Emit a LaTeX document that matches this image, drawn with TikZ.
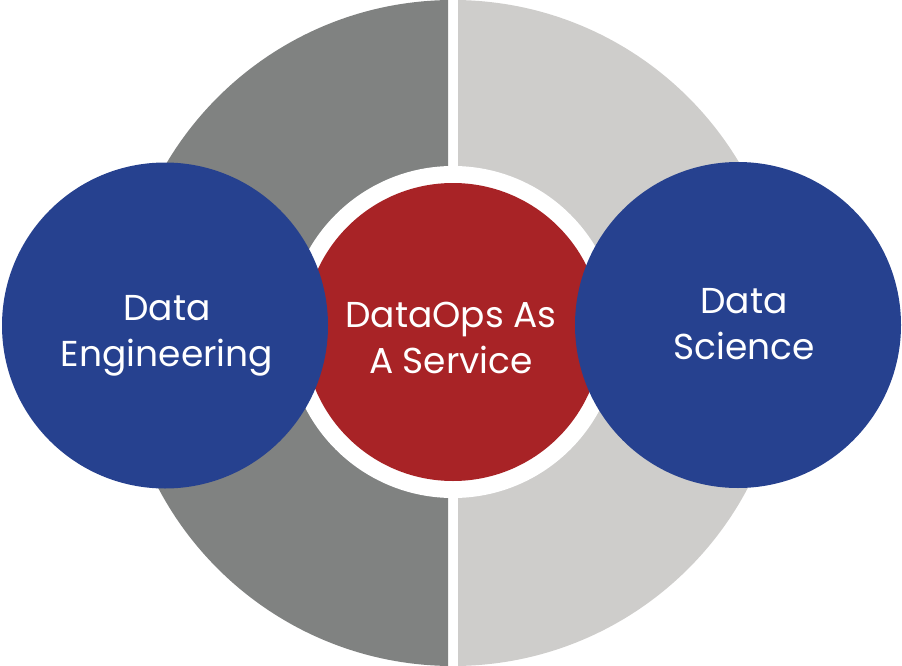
\documentclass[tikz,border=0pt]{standalone}
\usepackage{fontspec}
\setmainfont{Poppins}
\definecolor{dgray}{HTML}{808281}
\definecolor{lgray}{HTML}{CECDCB}
\definecolor{dblue}{HTML}{26418F}
\definecolor{dred}{HTML}{A82326}
\begin{document}
\begin{tikzpicture}[x=1pt,y=-1pt,
  lbl/.style={text=white,align=center,inner sep=0pt,font=\fontsize{36}{46}\selectfont},
  disc/.style={circle,inner sep=0pt,draw=none}]
\useasboundingbox (0,0) rectangle (902,666);
\begin{scope}
  \clip (0,0) rectangle (448,666);
  \fill[dgray] (453,333) circle (333);
\end{scope}
\begin{scope}
  \clip (458,0) rectangle (902,666);
  \fill[lgray] (453,333) circle (333);
\end{scope}
\node[disc,fill=white,minimum size=332pt] (ring) at (453,332) {};
\node[disc,fill=dred,minimum size=298pt] (svc) at (453,332) {};
\node[disc,fill=dblue,minimum size=326pt] (de) at (165,325.5) {};
\node[disc,fill=dblue,minimum size=326pt] (ds) at (738,325) {};
\node[lbl] (svct) at (451,338) {DataOps As\\A Service};
\node[lbl] (det) at (167,336) {Data\\Engineering};
\node[lbl] (dst) at (744,324) {Data\\Science};
\end{tikzpicture}
\end{document}
